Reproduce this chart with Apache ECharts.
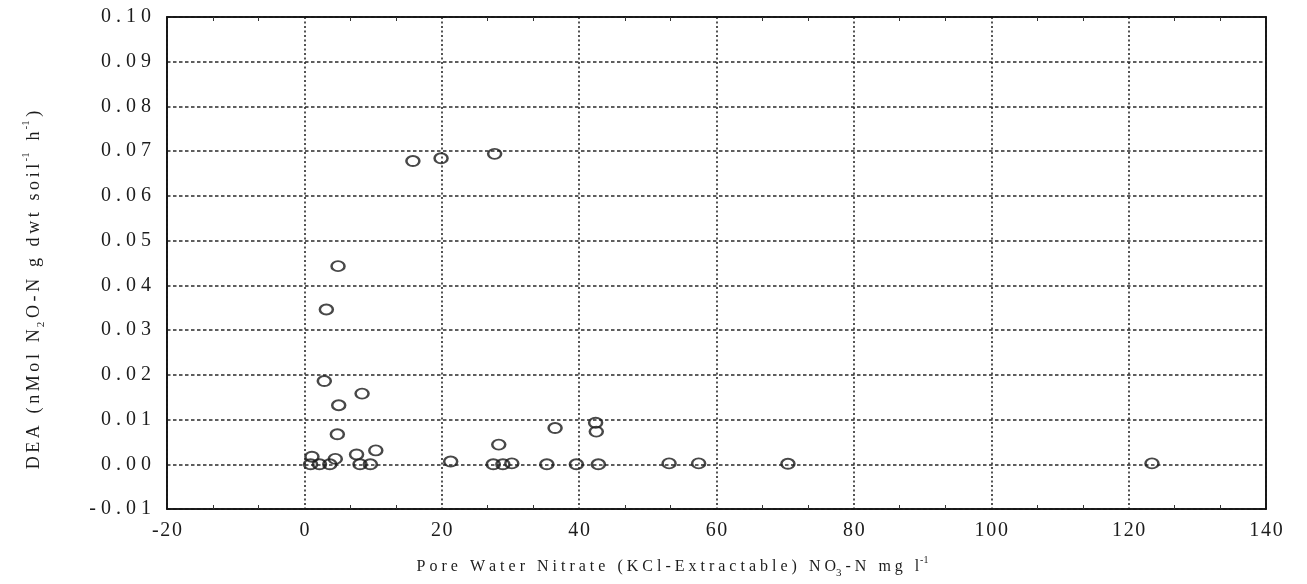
<!DOCTYPE html>
<html>
<head>
<meta charset="utf-8">
<title>DEA vs Pore Water Nitrate</title>
<script src="https://cdn.jsdelivr.net/npm/echarts@6/dist/echarts.min.js"></script>
<style>
  html, body { margin: 0; padding: 0; background: #fff; }
  #chart { width: 1307px; height: 584px; }
</style>
</head>
<body>
<div id="chart"></div>
<script>
// Pore water nitrate (NO3-N, mg/l) for each soil sample
const nitrate = [
  15.8, 19.9, 27.7, 4.9, 3.2, 2.9, 8.4, 5.0, 4.8, 10.4,
  7.6, 1.1, 4.5, 0.9, 2.2, 3.7, 8.1, 9.6, 21.3, 28.3,
  27.5, 28.9, 30.2, 36.5, 35.3, 39.6, 42.4, 42.5, 42.8, 53.1,
  57.4, 70.4, 123.4
];
// Denitrification enzyme activity for the same samples
const dea = [
  0.0678, 0.0684, 0.0694, 0.0443, 0.0346, 0.0186, 0.0158, 0.0132, 0.0067, 0.0031,
  0.0022, 0.0017, 0.0012, 0.0000, 0.0000, 0.0000, 0.0000, 0.0000, 0.0006, 0.0044,
  0.0000, 0.0000, 0.0002, 0.0081, 0.0000, 0.0000, 0.0093, 0.0073, 0.0000, 0.0002,
  0.0002, 0.0001, 0.0002
];
const xTicks = { min: -20, max: 140, step: 20 };
const yTicks = { min: -0.01, max: 0.10, step: 0.01 };

const FONT = '"Liberation Serif", "DejaVu Serif", serif';
const INK = '#1c1c1c';

// spread the characters of a string apart
const spread = (s, gap) => s.split('').join(gap);
const THIN = '\u2009';
const QUARTER = '\u2005';
const HAIR = '\u200A';

const points = nitrate.map((x, i) => [x, dea[i]]);

const yName =
  '{y|' + spread('DEA (nMol N', THIN) + '}' +
  '{ysub|' + THIN + '2}' +
  '{y|' + THIN + spread('O-N g dwt soil', THIN) + '}' +
  '{ysup|' + THIN + '-1}' +
  '{y|' + THIN + spread(' h', THIN) + '}' +
  '{ysup|' + THIN + '-1}' +
  '{y|' + THIN + ')}';

const xName =
  '{x|' + spread('Pore Water Nitrate (KCl-Extractable) NO', QUARTER) + '}' +
  '{xsub|3}' +
  '{x|' + QUARTER + spread('-N mg l', QUARTER) + '}' +
  '{xsup|' + HAIR + '-1}';

const richStyles = {
  y:    { fontFamily: FONT, fontSize: 18, color: INK, lineHeight: 26, verticalAlign: 'middle' },
  ysub: { fontFamily: FONT, fontSize: 11, color: INK, lineHeight: 13, verticalAlign: 'bottom' },
  ysup: { fontFamily: FONT, fontSize: 11, color: INK, lineHeight: 13, verticalAlign: 'top' },
  x:    { fontFamily: FONT, fontSize: 16, color: INK, lineHeight: 24, verticalAlign: 'middle' },
  xsub: { fontFamily: FONT, fontSize: 11, color: INK, lineHeight: 12, verticalAlign: 'bottom' },
  xsup: { fontFamily: FONT, fontSize: 10, color: INK, lineHeight: 12, verticalAlign: 'top' }
};

const chart = echarts.init(document.getElementById('chart'), null, { renderer: 'canvas' });

chart.setOption({
  backgroundColor: '#ffffff',
  animation: false,
  grid: {
    left: 167, right: 41, top: 17, bottom: 75,
    show: true, borderColor: '#111', borderWidth: 1.6, backgroundColor: 'transparent'
  },
  xAxis: [
    {
      type: 'value',
      min: xTicks.min, max: xTicks.max, interval: xTicks.step,
      position: 'bottom',
      name: xName,
      nameLocation: 'middle',
      nameGap: 46,
      nameTextStyle: { rich: richStyles, padding: [0, 88, 0, 0] },
      axisLine: { show: true, onZero: false, lineStyle: { color: '#111', width: 1.6 } },
      axisTick: { show: false, inside: true },
      minorTick: { show: true, splitNumber: 3, length: 4, lineStyle: { color: '#333', width: 1 } },
      axisLabel: {
        margin: 12,
        fontFamily: FONT, fontSize: 20, color: INK,
        formatter: v => spread(String(Math.round(v)), HAIR)
      },
      splitLine: { show: true, lineStyle: { color: '#2a2a2a', width: 1.6, type: [2, 2.5] } }
    },
    {
      type: 'value',
      min: xTicks.min, max: xTicks.max, interval: xTicks.step,
      position: 'top',
      axisLine: { show: true, onZero: false, lineStyle: { color: '#111', width: 1.6 } },
      axisTick: { show: false, inside: true },
      minorTick: { show: true, splitNumber: 3, length: 4, lineStyle: { color: '#333', width: 1 } },
      axisLabel: { show: false },
      splitLine: { show: false }
    }
  ],
  yAxis: [
    {
      type: 'value',
      min: yTicks.min, max: yTicks.max, interval: yTicks.step,
      position: 'left',
      name: yName,
      nameLocation: 'middle',
      nameRotate: 90,
      nameGap: 120,
      nameTextStyle: { rich: richStyles, padding: [0, 54, 0, 0] },
      axisLine: { show: true, onZero: false, lineStyle: { color: '#111', width: 1.6 } },
      axisTick: { show: false },
      axisLabel: {
        margin: 16,
        fontFamily: FONT, fontSize: 20, color: INK,
        formatter: v => spread(v.toFixed(2), QUARTER)
      },
      splitLine: { show: true, lineStyle: { color: '#2a2a2a', width: 1.6, type: [3.5, 2.5] } }
    },
    {
      type: 'value',
      min: yTicks.min, max: yTicks.max, interval: yTicks.step,
      position: 'right',
      axisLine: { show: true, onZero: false, lineStyle: { color: '#111', width: 1.6 } },
      axisTick: { show: false },
      axisLabel: { show: false },
      splitLine: { show: false }
    }
  ],
  series: [
    {
      type: 'scatter',
      xAxisIndex: 0,
      yAxisIndex: 0,
      data: points,
      symbol: 'circle',
      symbolSize: [13, 10],
      itemStyle: { color: 'rgba(0,0,0,0)', borderColor: '#1a1a1a', borderWidth: 2.2 },
      emphasis: { disabled: true }
    }
  ]
});
</script>
</body>
</html>
